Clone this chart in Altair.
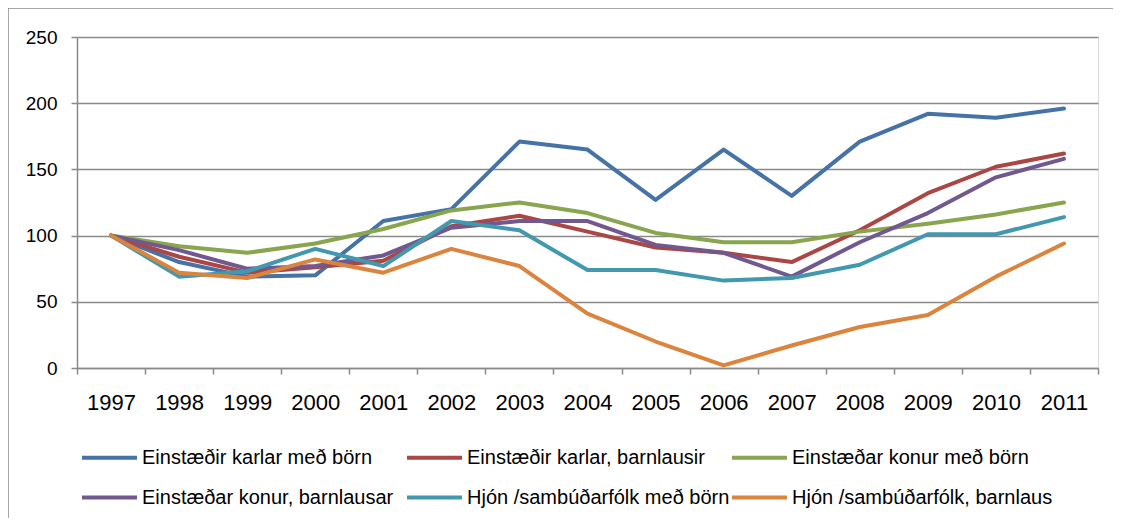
import altair as alt
import pandas as pd

years = [str(y) for y in range(1997, 2012)]
series = [
    "Einstæðir karlar með börn",
    "Einstæðir karlar, barnlausir",
    "Einstæðar konur með börn",
    "Einstæðar konur, barnlausar",
    "Hjón /sambúðarfólk með börn",
    "Hjón /sambúðarfólk, barnlaus",
]
colors = ["#4572A7", "#AA4643", "#89A54E", "#71588F", "#4198AF", "#DB843D"]

karlar_born = [100, 80, 69, 70, 111, 120, 171, 165, 127, 165, 130, 171, 192, 189, 196]
karlar_barnl = [100, 84, 72, 76, 81, 107, 115, 103, 91, 87, 80, 104, 132, 152, 162]
konur_born = [100, 92, 87, 94, 105, 119, 125, 117, 102, 95, 95, 103, 109, 116, 125]
konur_barnl = [100, 89, 75, 77, 85, 106, 111, 111, 93, 87, 69, 95, 117, 144, 158]
hjon_born = [100, 69, 73, 90, 77, 111, 104, 74, 74, 66, 68, 78, 101, 101, 114]
hjon_barnl = [100, 72, 68, 82, 72, 90, 77, 41, 20, 2, 17, 31, 40, 69, 94]

values = [karlar_born, karlar_barnl, konur_born, konur_barnl, hjon_born, hjon_barnl]

rows = []
for s, vals in zip(series, values):
    for y, v in zip(years, vals):
        rows.append({"Ár": y, "Röð": s, "Gildi": v})
df = pd.DataFrame(rows)

W, H = 1021, 331
PAD = {"left": 69, "top": 29, "right": 15, "bottom": 150}
GRAY = "#8a8a8a"

lines = alt.Chart(df).mark_line(strokeWidth=4, strokeCap="round", strokeJoin="round").encode(
    x=alt.X(
        "Ár:O",
        sort=years,
        bandPosition=0.5,
        scale=alt.Scale(type="band", paddingInner=0, paddingOuter=0),
        axis=alt.Axis(
            title=None,
            labelAngle=0,
            tickBand="extent",
            ticks=True,
            tickSize=6,
            tickColor=GRAY,
            tickWidth=1.5,
            domainColor=GRAY,
            domainWidth=1.5,
            labelFontSize=22,
            labelFont="Liberation Sans",
            labelColor="#000000",
            labelBaseline="middle",
            labelPadding=28,
            grid=False,
        ),
    ),
    y=alt.Y(
        "Gildi:Q",
        scale=alt.Scale(domain=[0, 250], nice=False),
        axis=alt.Axis(
            title=None,
            values=[0, 50, 100, 150, 200, 250],
            tickSize=6,
            tickColor=GRAY,
            tickWidth=1.5,
            domainColor=GRAY,
            domainWidth=1.5,
            gridColor=GRAY,
            gridWidth=1.5,
            labelFontSize=19,
            labelFont="Liberation Sans",
            labelColor="#000000",
            labelPadding=14,
        ),
    ),
    color=alt.Color(
        "Röð:N",
        sort=series,
        scale=alt.Scale(domain=series, range=colors),
        legend=alt.Legend(
            title=None,
            orient="none",
            direction="horizontal",
            legendX=3,
            legendY=391,
            columns=3,
            gridAlign="all",
            columnPadding=-6,
            rowPadding=-14,
            padding=0,
            symbolType="stroke",
            symbolSize=3025,
            symbolStrokeWidth=4,
            labelOffset=3,
            labelFontSize=20,
            labelFont="Liberation Sans",
            labelColor="#000000",
            labelLimit=400,
        ),
    ),
)

one = pd.DataFrame({"k": [0]})
frame = alt.Chart(one).mark_rect(fill=None, fillOpacity=0, stroke=GRAY, strokeWidth=1.5).encode(
    x=alt.value(-PAD["left"]),
    x2=alt.value(W + PAD["right"] + 60),
    y=alt.value(-PAD["top"]),
    y2=alt.value(H + PAD["bottom"] + 60),
)

chart = alt.layer(frame, lines).properties(
    width=W,
    height=H,
    padding=PAD,
    autosize="none",
).configure_view(stroke=None).configure(background="#ffffff")

chart.save("out.html", embed_options={"renderer": "svg", "actions": False})
